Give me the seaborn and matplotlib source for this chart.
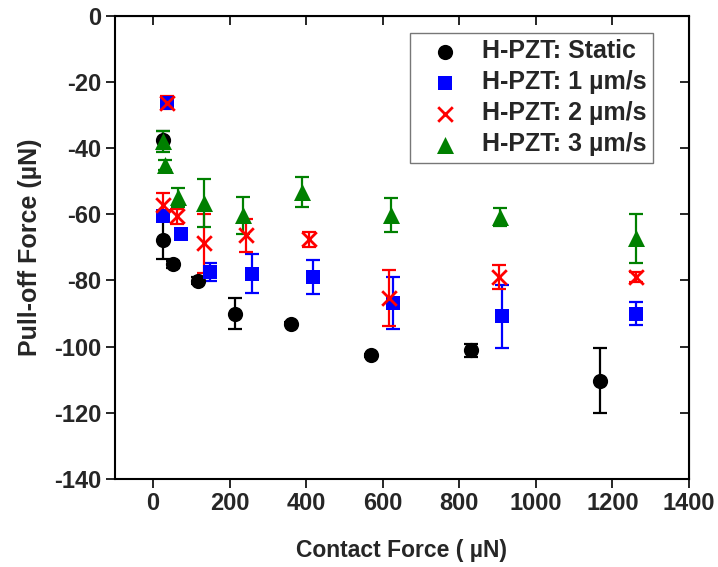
import numpy as np
import pandas as pd
import matplotlib
matplotlib.use("Agg")
import matplotlib.pyplot as plt
import seaborn as sns

# valores (força de contato em uN, pull-off em uN, barra de erro)
static_x = [25, 27, 51, 118, 214, 361, 569, 831, 1168]
static_y = [-37.6, -67.8, -75.1, -80.1, -90.0, -93.0, -102.6, -101.1, -110.3]
static_err = [2.7, 5.7, 1.0, 1.0, 4.8, 0.5, 0.5, 2.0, 9.8]

v1_x = [25, 36, 73, 149, 258, 417, 628, 912, 1263]
v1_y = [-60.6, -26.3, -66.0, -77.4, -77.9, -78.9, -86.8, -90.8, -90.0]
v1_err = [1.0, 1.5, 1.0, 2.8, 6.0, 5.1, 7.9, 9.5, 3.5]

v2_x = [27, 36, 62, 133, 242, 406, 615, 903, 1263]
v2_y = [-57.2, -26.3, -60.6, -68.8, -66.3, -67.6, -85.4, -78.9, -78.9]
v2_err = [3.5, 2.0, 2.3, 9.0, 5.0, 2.2, 8.5, 3.6, 1.5]

v3_x = [25, 30, 66, 133, 236, 388, 621, 907, 1262]
v3_y = [-38.0, -45.2, -54.9, -56.7, -60.3, -53.2, -60.3, -60.8, -67.3]
v3_err = [3.2, 1.5, 2.8, 7.3, 5.6, 4.6, 5.2, 2.8, 7.4]

series_labels = ["H-PZT: Static", "H-PZT: 1 µm/s", "H-PZT: 2 µm/s", "H-PZT: 3 µm/s"]

sns.set_style("ticks")
plt.rcParams['font.family'] = ['Liberation Sans', 'DejaVu Sans']
plt.rcParams['font.weight'] = 'bold'
plt.rcParams['axes.labelweight'] = 'bold'
plt.rcParams['axes.unicode_minus'] = False

fig = plt.figure(figsize=(7.18, 5.67), dpi=100)
ax = fig.add_axes([0.160, 0.155, 0.7995, 0.8175])

series = [
    (static_x, static_y, static_err, "black", "o", 120),
    (v1_x, v1_y, v1_err, "blue", "s", 90),
    (v2_x, v2_y, v2_err, "red", "x", 110),
    (v3_x, v3_y, v3_err, "green", "^", 150),
]

for (xs, ys, es, cor, mk, tam), rot in zip(series, series_labels):
    ax.errorbar(xs, ys, yerr=es, fmt="none", ecolor=cor, elinewidth=1.6,
                capsize=5, capthick=1.6, zorder=2)
    df = pd.DataFrame({"x": xs, "y": ys})
    if mk == "x":
        sns.scatterplot(data=df, x="x", y="y", marker=mk, color=cor, s=tam,
                        linewidth=2, label=rot, ax=ax, zorder=3)
    else:
        sns.scatterplot(data=df, x="x", y="y", marker=mk, color=cor, s=tam,
                        linewidth=0, label=rot, ax=ax, zorder=3)

ax.set_xlim(-100, 1400)
ax.set_ylim(-140, 0)
ax.set_xticks(np.arange(0, 1401, 200))
ax.set_yticks(np.arange(-140, 1, 20))
ax.set_xlabel("Contact Force ( µN)", fontsize=16.5, fontweight="bold", labelpad=17)
ax.set_ylabel("Pull-off Force (µN)", fontsize=18, fontweight="bold", labelpad=9)
ax.tick_params(axis="both", direction="out", length=6.5, width=1.4, labelsize=17, pad=3)
for sp in ax.spines.values():
    sp.set_visible(True)
    sp.set_linewidth(1.5)
    sp.set_color("black")

# ticks internos em cima e à direita
topo = ax.secondary_xaxis("top")
topo.set_xticks(np.arange(0, 1401, 200))
topo.tick_params(direction="in", length=6.5, width=1.4, labeltop=False)
direita = ax.secondary_yaxis("right")
direita.set_yticks(np.arange(-140, 1, 20))
direita.tick_params(direction="in", length=6.5, width=1.4, labelright=False)

leg = ax.legend(loc="upper left", bbox_to_anchor=(0.514, 0.962), borderaxespad=0,
                fontsize=18, frameon=True, fancybox=False, labelspacing=0.28,
                handletextpad=0.33, borderpad=0.25, handlelength=2.3)
leg.get_frame().set_edgecolor("#555555")
leg.get_frame().set_linewidth(1.0)
for t in leg.get_texts():
    t.set_fontweight("bold")

fig.savefig("out.png", dpi=100)
